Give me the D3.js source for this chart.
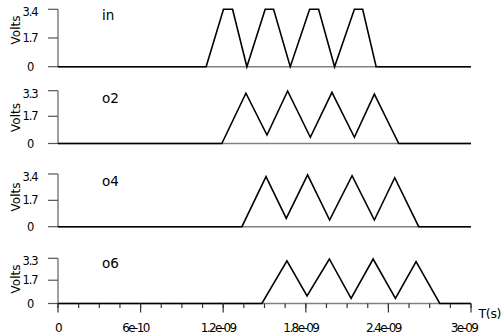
<!DOCTYPE html>
<html><head><meta charset="utf-8">
<script src="https://cdn.jsdelivr.net/npm/d3@7"></script>
<style>body{margin:0;background:#fff}svg{display:block}text{font-family:"DejaVu Sans",sans-serif}</style>
</head><body>
<svg id="c" width="503" height="334"></svg>
<script>
// ---- data (times in ns, values in volts) ----
const seriesNames = ["in", "o2", "o4", "o6"];
const yMax = [3.4, 3.3, 3.4, 3.3];
const yTickLabels = [["0","1.7","3.4"],["0","1.7","3.3"],["0","1.7","3.4"],["0","1.7","3.3"]];
const tIn = [0, 1.076, 1.202, 1.268, 1.372, 1.505, 1.566, 1.687, 1.828, 1.893, 2.009, 2.153, 2.213, 2.311, 3.0];
const vIn = [0, 0, 3.4, 3.4, 0, 3.4, 3.4, 0, 3.4, 3.4, 0, 3.4, 3.4, 0, 0];
const tO2 = [0, 1.19, 1.365, 1.518, 1.668, 1.833, 1.99, 2.153, 2.298, 2.475, 3.0];
const vO2 = [0, 0, 3.14, 0.53, 3.28, 0.39, 3.2, 0.39, 3.08, 0, 0];
const tO4 = [0, 1.336, 1.511, 1.658, 1.813, 1.973, 2.136, 2.298, 2.446, 2.62, 3.0];
const vO4 = [0, 0, 3.23, 0.54, 3.34, 0.43, 3.29, 0.43, 3.16, 0, 0];
const tO6 = [0, 1.481, 1.663, 1.809, 1.971, 2.129, 2.289, 2.451, 2.601, 2.773, 3.0];
const vO6 = [0, 0, 3.12, 0.55, 3.25, 0.38, 3.25, 0.38, 3.05, 0, 0];
const xTickValues = [0, 6e-10, 1.2e-9, 1.8e-9, 2.4e-9, 3e-9];
const xTickLabels = ["0", "6e-10", "1.2e-09", "1.8e-09", "2.4e-09", "3e-09"];
const xMinorStep = 1.5e-10;

const times = [tIn, tO2, tO4, tO6];
const values = [vIn, vO2, vO4, vO6];

// ---- layout ----
const svg = d3.select("#c");
const x = d3.scaleLinear().domain([0, 3e-9]).range([58, 471]);
const panels = [[9.3, 66.7], [90.7, 143.5], [174, 226.7], [258.3, 303.5]];
const volts = [30, 117.5, 197, 279];
const labelBase = [20, 102.7, 186, 268.3];
const gray = "#808080";

seriesNames.forEach((name, i) => {
  const [top, bot] = panels[i];
  const y = d3.scaleLinear().domain([0, yMax[i]]).range([bot, top]);
  const g = svg.append("g");
  g.append("line").attr("x1", 58).attr("x2", 58).attr("y1", y(yMax[i])).attr("y2", y(0))
    .attr("stroke", gray).attr("stroke-width", 1.5);
  const tv = [0, 1.7, yMax[i]];
  tv.forEach((v, k) => {
    g.append("line").attr("x1", 48).attr("x2", 58).attr("y1", y(v)).attr("y2", y(v))
      .attr("stroke", "#555").attr("stroke-width", 1.2);
    g.append("text").attr("x", 30).attr("y", y(v) + 4 + (k === 2 ? 3 : 0))
      .attr("text-anchor", "middle").attr("font-size", 11.5)
      .style("letter-spacing", "-1.1px").attr("fill", "#000").text(yTickLabels[i][k]);
  });
  g.append("line").attr("x1", 58).attr("x2", x(3e-9)).attr("y1", y(0)).attr("y2", y(0))
    .attr("stroke", gray).attr("stroke-width", 1.5);
  g.append("text").attr("transform", `translate(20,${volts[i]}) rotate(-90)`)
    .attr("text-anchor", "middle").attr("font-size", 12).text("Volts");
  g.append("text").attr("x", 102).attr("y", labelBase[i]).attr("font-size", 13.5).text(name);
  const pts = times[i].map((t, j) => [t * 1e-9, values[i][j]]);
  g.append("path").datum(pts)
    .attr("d", d3.line().x(d => x(d[0])).y(d => y(d[1])))
    .attr("fill", "none").attr("stroke", "#000").attr("stroke-width", 1.6)
    .attr("stroke-linejoin", "miter");
});

const yAxis = panels[3][1];
const ax = svg.append("g");
const minor = d3.range(0, 3e-9 + 1e-12, xMinorStep);
minor.forEach(t => {
  ax.append("line").attr("x1", x(t)).attr("x2", x(t)).attr("y1", yAxis).attr("y2", yAxis + 4.5)
    .attr("stroke", "#333").attr("stroke-width", 1.2);
});
xTickValues.forEach((t, k) => {
  ax.append("line").attr("x1", x(t)).attr("x2", x(t)).attr("y1", yAxis).attr("y2", yAxis + 9)
    .attr("stroke", "#333").attr("stroke-width", 1.2);
  const dx = k === 0 ? 0 : (k === xTickValues.length - 1 ? -7 : -5);
  ax.append("text").attr("x", x(t) + dx).attr("y", 331.5).attr("text-anchor", "middle")
    .attr("font-size", 12).style("letter-spacing", "-1.6px").text(xTickLabels[k]);
});
ax.append("text").attr("x", 478.5).attr("y", 318).attr("font-size", 12.5).style("letter-spacing", "-0.3px").text("T(s)");
</script>
</body></html>
